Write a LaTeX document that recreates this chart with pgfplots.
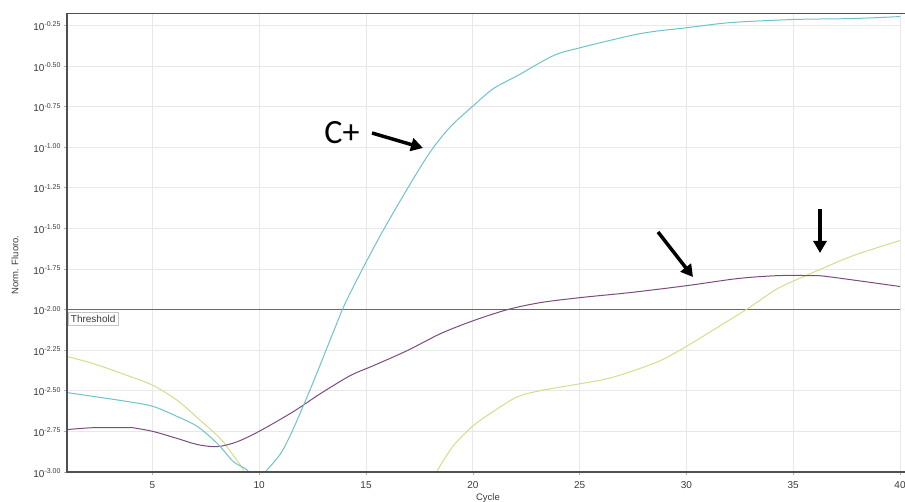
\documentclass[border=0pt]{standalone}
\usepackage{pgfplots}
\pgfplotsset{compat=1.18}
\usepackage{fontspec}
\setmainfont{Liberation Sans}
\newfontfamily\calibri{Carlito}
\usetikzlibrary{arrows.meta}
\definecolor{cyanline}{HTML}{6CC3CC}
\definecolor{purpline}{HTML}{7B4B7E}
\definecolor{yelline}{HTML}{D6DC8A}
\definecolor{threshred}{RGB}{222,60,40}
\definecolor{gridc}{HTML}{E8E8E8}
\definecolor{axc}{HTML}{505050}
\definecolor{labc}{HTML}{3A3A3A}
\newcommand\expo[1]{\raisebox{3.6pt}{\fontsize{7}{7}\selectfont #1}}

\pgfplotstableread{
x e
1 -2.511
3.83 -2.566
5.05 -2.597
6.17 -2.659
7.11 -2.72
8.04 -2.825
8.79 -2.936
9.45 -2.99
9.9 -3.08
10.29 -3.0
11.0 -2.887
11.6 -2.733
12.54 -2.443
13.48 -2.135
14.13 -1.932
15.59 -1.563
16.94 -1.255
18.02 -1.027
18.96 -0.873
20.03 -0.744
20.97 -0.639
22.1 -0.559
23.78 -0.436
25.05 -0.387
27.39 -0.313
28.47 -0.288
30.06 -0.264
32.07 -0.233
35.02 -0.214
37.83 -0.208
40 -0.196
}\cyantab

\pgfplotstableread{
x e
1 -2.739
2.24 -2.727
3.83 -2.727
4.06 -2.727
5.05 -2.751
6.17 -2.794
7.11 -2.831
8.04 -2.844
8.98 -2.813
10.06 -2.745
11.6 -2.628
12.87 -2.517
14.27 -2.406
15.35 -2.345
16.94 -2.252
18.49 -2.148
20.03 -2.068
21.63 -2.0
23.17 -1.957
25.05 -1.926
27.39 -1.895
30.06 -1.852
32.4 -1.809
34.27 -1.791
35.82 -1.791
36.62 -1.797
40 -1.858
}\purptab

\pgfplotstableread{
x e
1 -2.289
2.24 -2.333
3.83 -2.406
5.05 -2.468
6.17 -2.56
7.25 -2.683
8.18 -2.794
8.79 -2.899
9.22 -2.979
9.5 -3.08
}\yeltabA

\pgfplotstableread{
x e
18.1 -3.08
18.35 -2.99
19.1 -2.837
20.03 -2.714
21.16 -2.61
22.1 -2.536
23.17 -2.499
25.05 -2.456
26.31 -2.425
27.39 -2.382
28.79 -2.314
30.06 -2.222
31.14 -2.135
32.87 -1.994
34.27 -1.871
35.82 -1.778
37.83 -1.667
40 -1.575
}\yeltabB

\begin{document}
\begin{tikzpicture}[x=1pt,y=1pt]
\begin{axis}[
  at={(0,0)}, anchor=south west,
  scale only axis, width=833pt, height=459pt,
  xmin=1, xmax=40, ymin=-3, ymax=-0.174,
  axis lines*=left,
  axis line style={draw=none},
  xtick={5,10,15,20,25,30,35,40},
  ytick={-3,-2.75,-2.5,-2.25,-2,-1.75,-1.5,-1.25,-1,-0.75,-0.5,-0.25},
  yticklabels={10\expo{-3.00},10\expo{-2.75},10\expo{-2.50},10\expo{-2.25},10\expo{-2.00},10\expo{-1.75},10\expo{-1.50},10\expo{-1.25},10\expo{-1.00},10\expo{-0.75},10\expo{-0.50},10\expo{-0.25}},
  grid=major, major grid style={gridc, line width=0.8pt},
  tick align=outside, major tick length=3pt,
  tick style={gray!60, line width=0.6pt},
  ticklabel style={font=\fontsize{10}{10}\selectfont, text=labc},
  xticklabel style={yshift=-3pt},
  yticklabel style={yshift=-1pt},
  /pgf/number format/assume math mode=true,
]
\addplot[color=threshred, line width=1.3pt, mark=none] coordinates {(1,-2) (40,-2)};
\addplot[yelline, line width=1pt, smooth, tension=0.5] table[x=x,y=e] {\yeltabA};
\addplot[yelline, line width=1pt, smooth, tension=0.5] table[x=x,y=e] {\yeltabB};
\addplot[purpline, line width=1pt, smooth, tension=0.5] table[x=x,y=e] {\purptab};
\addplot[cyanline, line width=1pt, smooth, tension=0.5] table[x=x,y=e] {\cyantab};
\end{axis}
\draw[axc, line width=2.5pt] (0,459) -- (0,0) -- (838,0);
\draw[axc, line width=0.8pt] (0,459) -- (838,459);
\node[draw=gray!45, fill=white, inner xsep=2.5pt, inner ysep=2.5pt, text height=7.5pt, text depth=0pt, anchor=north west, font=\fontsize{10}{10}\selectfont, text=labc] at (1.2,160) {Threshold};
\node[rotate=90, font=\fontsize{9.5}{10}\selectfont, text=labc] at (-52,207) {Norm. Fluoro.};
\node[anchor=north, inner sep=0pt, font=\fontsize{9.5}{10}\selectfont, text=labc] at (421,-21) {Cycle};
\node[font=\calibri\fontsize{34}{34}\selectfont] at (275,339) {C+};
\draw[line width=3.5pt, -{Triangle[length=12pt,width=13pt]}] (305,339) -- (356,324);
\draw[line width=3.5pt, -{Triangle[length=12pt,width=13pt]}] (591,240) -- (626,195);
\draw[line width=3.5pt, -{Triangle[length=12pt,width=13pt]}] (753,263) -- (753,219);
\pgfresetboundingbox
\path (-67,-29) rectangle (838,472);
\end{tikzpicture}
\end{document}
